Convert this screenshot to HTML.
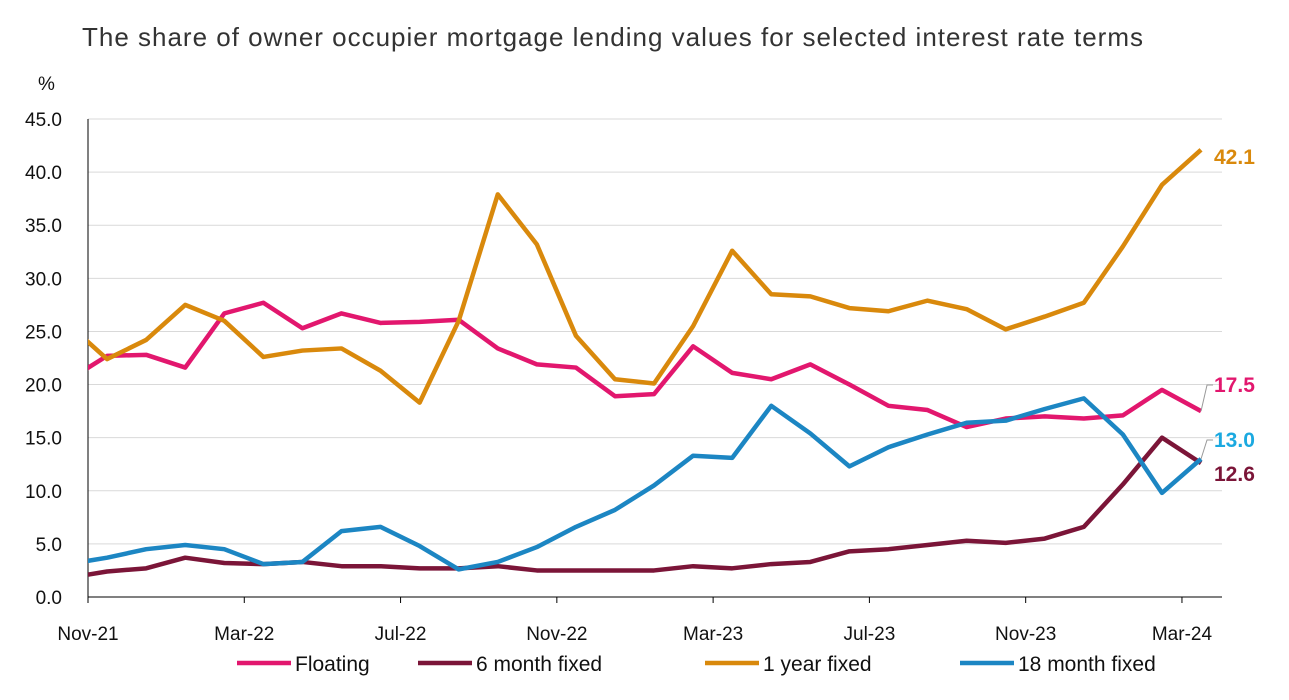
<!DOCTYPE html>
<html><head><meta charset="utf-8"><style>
body{margin:0;background:#fff;font-family:"Liberation Sans",sans-serif}
svg text{font-family:"Liberation Sans",sans-serif}
</style></head><body>
<svg width="1289" height="695" id="c">
<text x="82" y="46" font-size="26" fill="#333" textLength="1061" lengthAdjust="spacing">The share of owner occupier mortgage lending values for selected interest rate terms</text>
<text x="38" y="90" font-size="19" fill="#111">%</text>
<g id="grid"></g><g id="series"></g><g id="labels"></g>
<g id="legend"></g>
</svg>
<script>
const months=["Oct-21","Nov-21","Dec-21","Jan-22","Feb-22","Mar-22","Apr-22","May-22","Jun-22","Jul-22","Aug-22","Sep-22","Oct-22","Nov-22","Dec-22","Jan-23","Feb-23","Mar-23","Apr-23","May-23","Jun-23","Jul-23","Aug-23","Sep-23","Oct-23","Nov-23","Dec-23","Jan-24","Feb-24","Mar-24"];
const floating=[20.4,22.7,22.8,21.6,26.7,27.7,25.3,26.7,25.8,25.9,26.1,23.4,21.9,21.6,18.9,19.1,23.6,21.1,20.5,21.9,20.0,18.0,17.6,16.0,16.8,17.0,16.8,17.1,19.5,17.5];
const sixMonth=[1.8,2.4,2.7,3.7,3.2,3.1,3.3,2.9,2.9,2.7,2.7,2.9,2.5,2.5,2.5,2.5,2.9,2.7,3.1,3.3,4.3,4.5,4.9,5.3,5.1,5.5,6.6,10.6,15.0,12.6];
const oneYear=[25.7,22.4,24.2,27.5,26.0,22.6,23.2,23.4,21.3,18.3,26.0,37.9,33.2,24.6,20.5,20.1,25.5,32.6,28.5,28.3,27.2,26.9,27.9,27.1,25.2,26.4,27.7,33.0,38.8,42.1];
const eighteen=[3.1,3.7,4.5,4.9,4.5,3.1,3.3,6.2,6.6,4.8,2.6,3.3,4.7,6.6,8.2,10.5,13.3,13.1,18.0,15.4,12.3,14.1,15.3,16.4,16.6,17.7,18.7,15.3,9.8,13.0];
const yTicks=[0,5,10,15,20,25,30,35,40,45];
const xTickLabels=["Nov-21","Mar-22","Jul-22","Nov-22","Mar-23","Jul-23","Nov-23","Mar-24"];
const NS="http://www.w3.org/2000/svg";
const L=88,R=1222,T=119,B=597;
const x=i=>68+i*39.07;
const y=v=>B-(v/45)*(B-T);
function mk(tag,at,parent){const e=document.createElementNS(NS,tag);for(const k in at)e.setAttribute(k,at[k]);document.getElementById(parent).appendChild(e);return e;}
yTicks.forEach(v=>{
 const g=mk('line',{x1:L,x2:R,y1:y(v),y2:y(v),stroke:v?'#d9d9d9':'#000','stroke-width':1},'grid');
 
 
 const t=mk('text',{x:L-26,y:y(v)+7,'text-anchor':'end','font-size':19,fill:'#111'},'grid');
 t.textContent=v.toFixed(1);
 
 
});
const ax=mk('line',{x1:L,x2:L,y1:T,y2:B,stroke:'#000'},'grid');


xTickLabels.forEach(lbl=>{
 const i=months.indexOf(lbl);
 const px=L+(i-1)*39.07;
 const tk=mk('line',{x1:px,x2:px,y1:B,y2:B+6,stroke:'#000'},'grid');
 
 
 const t=mk('text',{x:px,y:B+43,'text-anchor':'middle','font-size':19,fill:'#111'},'grid');
 t.textContent=lbl;
 
 
});
const cp=mk('clipPath',{id:'clp'},'series');
const cr=document.createElementNS(NS,'rect');cr.setAttribute('x',L);cr.setAttribute('y',0);cr.setAttribute('width',R-L+20);cr.setAttribute('height',695);cp.appendChild(cr);
const series=[["floating",floating,"#e2176e"],["six-month-fixed",sixMonth,"#7b1538"],["one-year-fixed",oneYear,"#d9890c"],["eighteen-month-fixed",eighteen,"#1c86c3"]];
series.forEach(([n,d,c])=>{
 const p=mk('polyline',{points:d.map((v,i)=>x(i)+','+y(v)).join(' '),fill:'none',stroke:c,'stroke-width':4.5,'stroke-linejoin':'round','clip-path':'url(#clp)'},'series');
 
 
});
const last=months.length-1;
const lab=[[oneYear,"#d9890c",1214,y(oneYear[last])+14,false],[floating,"#e2176e",1214,392,true],[eighteen,"#1ba9e0",1214,447,true],[sixMonth,"#7b1538",1214,481,false]];
lab.forEach(([d,c,lx,ly,leader])=>{
 if(leader){const pl=mk('polyline',{points:`${x(last)},${y(d[last])} ${x(last)+6},${ly-7} ${x(last)+12},${ly-7}`,fill:'none',stroke:'#999','stroke-width':1},'labels');
  }
 const t=mk('text',{x:lx,y:ly,'font-size':21,'font-weight':'bold',fill:c},'labels');
 t.textContent=d[last].toFixed(1);
 
 
});
const leg=[["Floating","#e2176e",237],["6 month fixed","#7b1538",418],["1 year fixed","#d9890c",705],["18 month fixed","#1c86c3",960]];
leg.forEach(([n,c,lx])=>{
 const l=mk('line',{x1:lx,x2:lx+54,y1:663,y2:663,stroke:c,'stroke-width':4.5},'legend');
 
 const t=mk('text',{x:lx+58,y:671,'font-size':21,fill:'#111'},'legend');
 t.textContent=n;
 
});
</script>
</body></html>
